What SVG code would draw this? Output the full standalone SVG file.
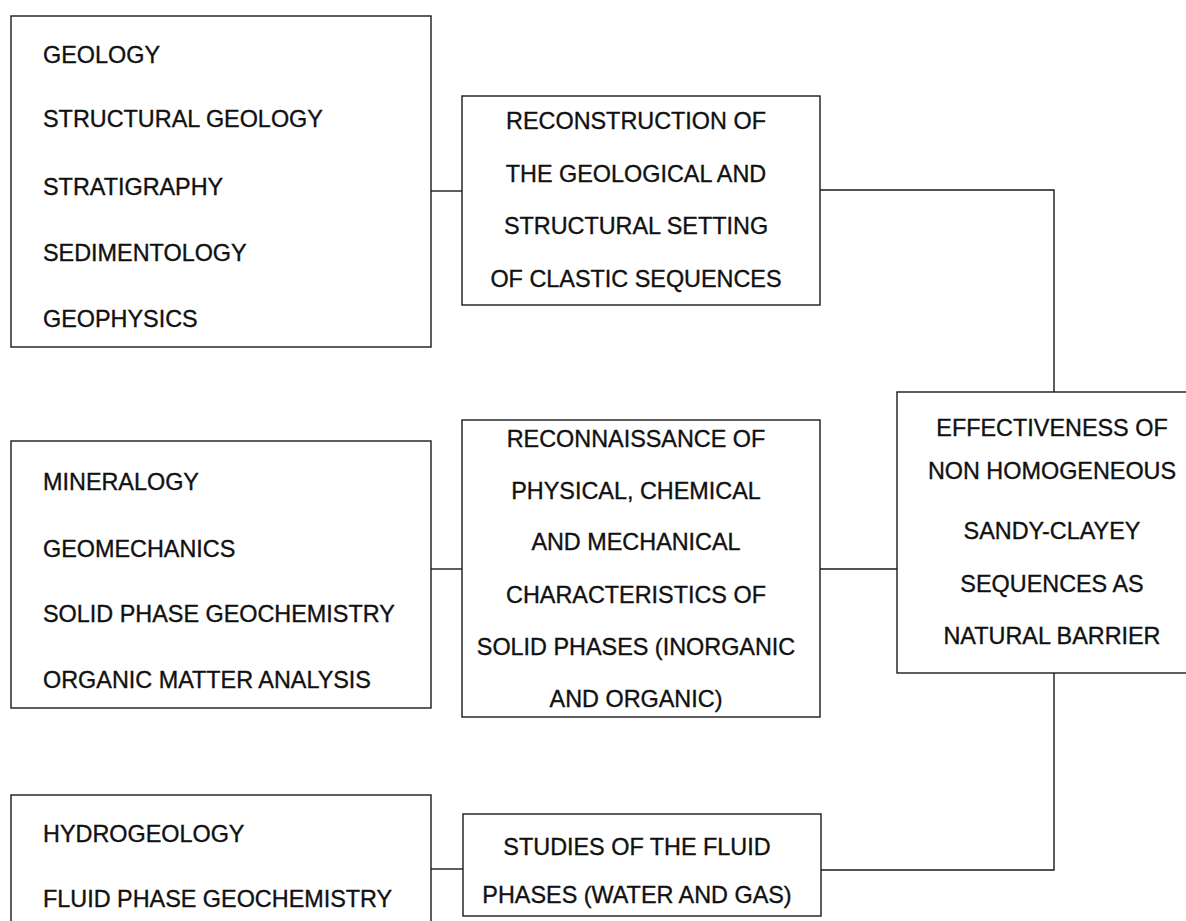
<svg xmlns="http://www.w3.org/2000/svg" width="1186" height="921" viewBox="0 0 1186 921">
<style>
.box{fill:#fff;stroke:#1a1a1a;stroke-width:1.4}
.ln{fill:none;stroke:#1a1a1a;stroke-width:1.4}
text{font-family:"Liberation Sans",Arial,sans-serif;font-size:23.4px;fill:#111;stroke:#111;stroke-width:0.35}
.c{text-anchor:middle}
</style>
<rect width="1186" height="921" fill="#fff"/>
<g id="connectors">
<path class="ln" d="M431 191H462"/>
<path class="ln" d="M820 190H1054V392"/>
<path class="ln" d="M431 569H462"/>
<path class="ln" d="M820 569H897"/>
<path class="ln" d="M431 869H463"/>
<path class="ln" d="M821 870H1054V673"/>
</g>
<g id="n-disciplines-1">
<rect class="box" x="11" y="16" width="420" height="331"/>
<text x="43" y="63">GEOLOGY</text>
<text x="43" y="127">STRUCTURAL GEOLOGY</text>
<text x="43" y="195">STRATIGRAPHY</text>
<text x="43" y="261">SEDIMENTOLOGY</text>
<text x="43" y="327">GEOPHYSICS</text>
</g>
<g id="n-reconstruction">
<rect class="box" x="462" y="96" width="358" height="209"/>
<text class="c" x="636" y="129">RECONSTRUCTION OF</text>
<text class="c" x="636" y="182">THE GEOLOGICAL AND</text>
<text class="c" x="636" y="234">STRUCTURAL SETTING</text>
<text class="c" x="636" y="287">OF CLASTIC SEQUENCES</text>
</g>
<g id="n-disciplines-2">
<rect class="box" x="11" y="441" width="420" height="267"/>
<text x="43" y="490">MINERALOGY</text>
<text x="43" y="557">GEOMECHANICS</text>
<text x="43" y="622">SOLID PHASE GEOCHEMISTRY</text>
<text x="43" y="688">ORGANIC MATTER ANALYSIS</text>
</g>
<g id="n-reconnaissance">
<rect class="box" x="462" y="420" width="358" height="297"/>
<text class="c" x="636" y="447">RECONNAISSANCE OF</text>
<text class="c" x="636" y="499">PHYSICAL, CHEMICAL</text>
<text class="c" x="636" y="550">AND MECHANICAL</text>
<text class="c" x="636" y="603">CHARACTERISTICS OF</text>
<text class="c" x="636" y="655">SOLID PHASES (INORGANIC</text>
<text class="c" x="636" y="707">AND ORGANIC)</text>
</g>
<g id="n-effectiveness">
<rect class="box" x="897" y="392" width="300" height="281"/>
<text class="c" x="1052" y="436">EFFECTIVENESS OF</text>
<text class="c" x="1052" y="479">NON HOMOGENEOUS</text>
<text class="c" x="1052" y="539">SANDY-CLAYEY</text>
<text class="c" x="1052" y="592">SEQUENCES AS</text>
<text class="c" x="1052" y="644">NATURAL BARRIER</text>
</g>
<g id="n-disciplines-3">
<rect class="box" x="11" y="795" width="420" height="140"/>
<text x="43" y="842">HYDROGEOLOGY</text>
<text x="43" y="907">FLUID PHASE GEOCHEMISTRY</text>
</g>
<g id="n-fluid-studies">
<rect class="box" x="463" y="814" width="358" height="102"/>
<text class="c" x="637" y="855">STUDIES OF THE FLUID</text>
<text class="c" x="637" y="903">PHASES (WATER AND GAS)</text>
</g>
</svg>
